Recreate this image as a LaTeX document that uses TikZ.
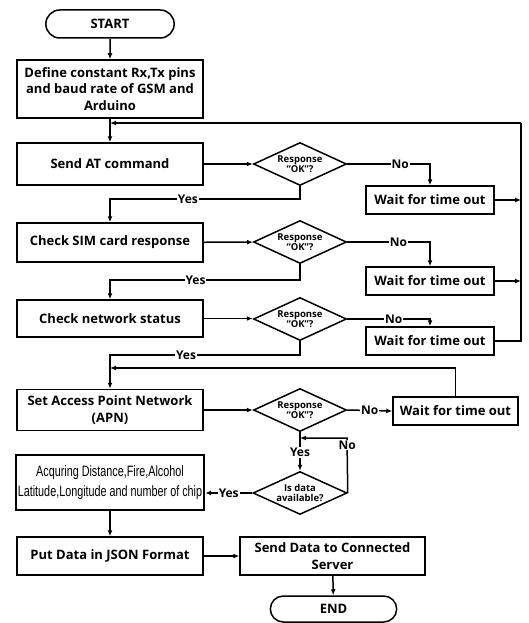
\documentclass[tikz,border=0pt]{standalone}
\usepackage{fontspec}
\setmainfont{Open Sans}
\newfontfamily\narrowfont[FakeStretch=0.72]{Liberation Sans}
\usetikzlibrary{shapes.geometric,shapes.misc,arrows.meta}
\begin{document}
\begin{tikzpicture}[x=1pt,y=-1pt,
  ln/.style={line width=1.5pt},
  arr/.style={ln,-{Latex[length=6pt,width=5pt]}},
  proc/.style={draw,ln,minimum width=186,inner sep=1pt,align=center,font=\bfseries\fontsize{13}{16.5}\selectfont},
  term/.style={draw,ln,rounded rectangle,minimum width=135,minimum height=28,font=\bfseries\fontsize{13}{15}\selectfont},
  dec/.style={draw,ln,diamond,shape aspect=2.16,minimum width=93,minimum height=43,inner sep=0pt,align=center,font=\bfseries\fontsize{9.5}{10.5}\selectfont},
  waitbox/.style={draw,ln,minimum width=128,minimum height=28,font=\bfseries\fontsize{13}{15}\selectfont},
  lbl/.style={fill=white,inner sep=1pt,font=\bfseries\fontsize{12}{13}\selectfont}]
\useasboundingbox (0,0) rectangle (529,623);
% process nodes
\node[term] (start) at (110,24) {START};
\node[proc,minimum height=58] (define) at (110,89) {Define constant Rx,Tx pins\\and baud rate of GSM and\\Arduino};
\node[proc,minimum height=42] (sendat) at (110,164) {Send AT command};
\node[proc,minimum height=39] (sim) at (110,242.5) {Check SIM card response};
\node[proc,minimum height=37] (net) at (110,318.5) {Check network status};
\node[proc,minimum height=41] (apn) at (110,410) {Set Access Point Network\\(APN)};
\node[draw,line width=2.4pt,minimum width=188,minimum height=55,inner sep=1pt,align=center,font=\narrowfont\fontsize{15}{20}\selectfont] (acq) at (110,482.5) {Acquring Distance,Fire,Alcohol\\Latitude,Longitude and number of chip};
\node[proc,minimum height=38] (put) at (110,556) {Put Data in JSON Format};
\node[proc,minimum width=185,minimum height=38] (send) at (332.5,556) {Send Data to Connected\\Server};
\node[term,minimum width=133,minimum height=26] (end) at (333.5,609) {END};
% decisions
\node[dec] (d1) at (300,164) {Response\\“OK”?};
\node[dec] (d2) at (300,242) {Response\\“OK”?};
\node[dec] (d3) at (300,319) {Response\\“OK”?};
\node[dec] (d4) at (300,410) {Response\\“OK”?};
\node[dec,minimum width=94] (d5) at (300,493) {Is data\\available?};
% wait boxes
\node[waitbox] (w1) at (430,200) {Wait for time out};
\node[waitbox] (w2) at (430,281) {Wait for time out};
\node[waitbox] (w3) at (430,341) {Wait for time out};
\node[waitbox,minimum width=125] (w4) at (455.5,411) {Wait for time out};
% helper coordinates
\coordinate (loopR) at (521,123);
\coordinate (y1) at (300,199);
\coordinate (y2) at (300,280);
\coordinate (y3) at (300,355);
\coordinate (l4) at (455.5,368);
\coordinate (nj) at (347,438);
\coordinate (nm) at (300,438);
% connectors
\draw[arr] (start) -- (define);
\draw[arr] (define) -- (sendat);
\draw[ln] (w3.east) -| (loopR);
\draw[arr] (loopR) -- (define.south |- loopR);
\draw[arr] (w1.east) -- (w1.east -| loopR);
\draw[arr] (w2.east) -- (w2.east -| loopR);
\draw[arr] (sendat) -- (d1);
\draw[arr] (sim) -- (d2);
\draw[arr] (net.east) -- (net.east -| d3.west);
\draw[arr] (apn) -- (d4);
\draw[arr] (d1.east) -| node[lbl,pos=0.32]{No} (w1.north);
\draw[arr] (d2.east) -| node[lbl,pos=0.31]{No} (w2.north);
\draw[arr] (d3.east) -| node[lbl,pos=0.28]{No} (w3.north);
\draw[arr] (d4.east) -- node[lbl]{No} (w4.west);
\draw[arr] (d1.south) -- (y1) -- node[lbl,pos=0.59]{Yes} (y1 -| sim.north) -- (sim.north);
\draw[arr] (d2.south) -- (y2) -- node[lbl,pos=0.55]{Yes} (y2 -| net.north) -- (net.north);
\draw[arr] (d3.south) -- (y3) -- node[lbl,pos=0.6]{Yes} (y3 -| apn.north) -- (apn.north);
\draw[arr] (w4.north) -- (l4) -- (l4 -| apn.north);
\draw[arr] (d4.south) -- node[lbl,pos=0.52]{Yes} (d5.north);
\draw[arr] (d5.east) -- node[lbl,pos=0.87]{No} (nj) -- (nm);
\draw[arr] (d5.west) -- node[lbl]{Yes} (d5.west -| acq.east);
\draw[arr] (acq) -- (put);
\draw[arr] (put) -- (send);
\draw[arr] (send) -- (end);
\end{tikzpicture}
\end{document}
